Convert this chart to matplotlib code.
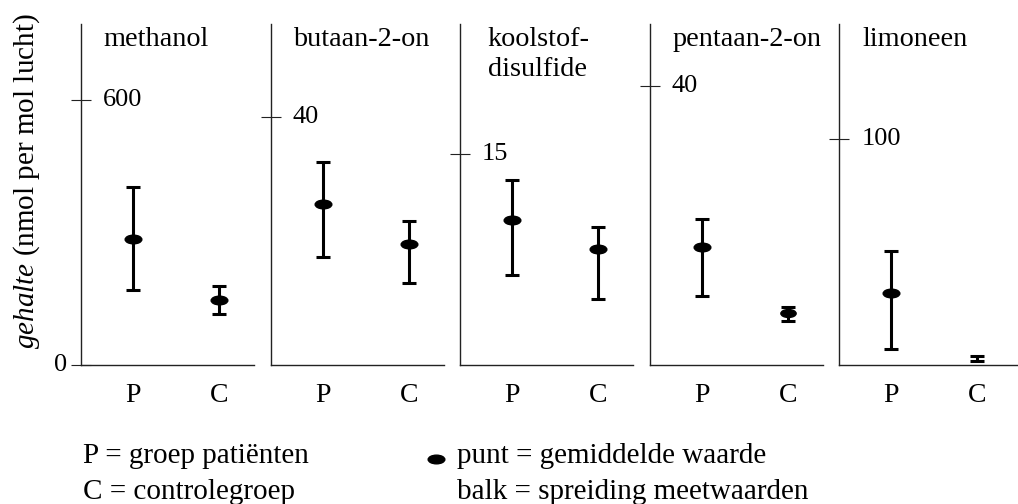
import matplotlib.pyplot as plt
from matplotlib.path import Path
from matplotlib.transforms import Affine2D, blended_transform_factory
import matplotlib
matplotlib.use('Agg')

plt.rcParams['font.family'] = 'Liberation Serif'
plt.rcParams['mathtext.fontset'] = 'custom'
plt.rcParams['mathtext.rm'] = 'Liberation Serif'
plt.rcParams['mathtext.it'] = 'Liberation Serif:italic'

# Data (per compound: mean, low, high for P and C)
compounds = ['methanol', 'butaan-2-on', 'koolstof-\ndisulfide', 'pentaan-2-on', 'limoneen']
groups = ['P', 'C']
means = [[285, 147], [26.0, 19.5], [10.3, 8.2], [16.9, 7.5], [31.9, 3.1]]
lows = [[170, 115], [17.4, 13.2], [6.4, 4.7], [9.9, 6.3], [7.1, 1.8]]
highs = [[403, 179], [32.7, 23.2], [13.1, 9.8], [20.9, 8.3], [50.4, 4.0]]
tick_values = [600, 40, 15, 40, 100]
y_max = [772, 55.0, 24.2, 48.9, 151]
# the limoneen control mean dot is hidden inside its tiny bar
dot_sizes = [[12, 12], [12, 12], [12, 12], [12, 11], [12, 0]]

W, H = 1018, 504
fig = plt.figure(figsize=(W / 100, H / 100), dpi=100)

ellipse = Path.unit_circle().transformed(Affine2D().scale(1.0, 0.52))

lefts = [81, 271, 460, 650, 839]
widths = [173, 173, 173, 173, 179]
bottom, top = 365, 24

for i, name in enumerate(compounds):
    ax = fig.add_axes([lefts[i] / W, (H - bottom) / H, widths[i] / W, (bottom - top) / H])
    x = list(range(len(groups)))
    m = means[i]
    lo = [m[j] - lows[i][j] for j in range(2)]
    hi = [highs[i][j] - m[j] for j in range(2)]
    ax.errorbar(x, m, yerr=[lo, hi], fmt='none', ecolor='black',
                elinewidth=2.2, capsize=4.8, capthick=2.2)
    for j in x:
        if dot_sizes[i][j] > 0:
            ax.plot(x[j], m[j], linestyle='none', marker=ellipse,
                    markersize=dot_sizes[i][j], color='black')
    ax.set_xlim(-0.61, 1.41 if i < 4 else 1.48)
    ax.set_ylim(0, y_max[i])
    for s in ['top', 'right']:
        ax.spines[s].set_visible(False)
    for s in ['left', 'bottom']:
        ax.spines[s].set_linewidth(1.0)
        ax.spines[s].set_color('#222222')
    ax.set_xticks(x)
    ax.set_xticklabels(groups, fontsize=20)
    ax.tick_params(axis='x', length=0, pad=13)
    yt = [0, tick_values[i]] if i == 0 else [tick_values[i]]
    ax.set_yticks(yt)
    ax.set_yticklabels([])
    ax.tick_params(axis='y', direction='inout', length=15, width=0.8,
                   color='#222222')
    tr = blended_transform_factory(ax.transAxes, ax.transData)
    ax.text(0.125, tick_values[i], str(tick_values[i]), transform=tr,
            fontsize=19, va='center', ha='left')
    if i == 0:
        ax.text(-0.08, 0, '0', transform=tr, fontsize=19, va='center', ha='right')
    ax.text(0.13 if i != 2 else 0.16, 0.99, name, transform=ax.transAxes,
            fontsize=20.3, va='top', ha='left', linespacing=1.23)

fig.text(27 / W, 1 - 181 / H, r'$\mathit{gehalte}$ (nmol per mol lucht)',
         rotation=90, fontsize=21, va='center', ha='center')

fig.text(83 / W, 1 - 463 / H, 'P = groep patiënten', fontsize=21, va='baseline')
fig.text(83 / W, 1 - 499 / H, 'C = controlegroep', fontsize=21, va='baseline')
fig.text(457 / W, 1 - 463 / H, 'punt = gemiddelde waarde', fontsize=21, va='baseline')
fig.text(457 / W, 1 - 499 / H, 'balk = spreiding meetwaarden', fontsize=21, va='baseline')
fig.lines.append(plt.Line2D([436 / W], [1 - 459 / H], transform=fig.transFigure,
                            marker=ellipse, markersize=12, color='black',
                            linestyle='none'))

fig.savefig('out.png', dpi=100)
